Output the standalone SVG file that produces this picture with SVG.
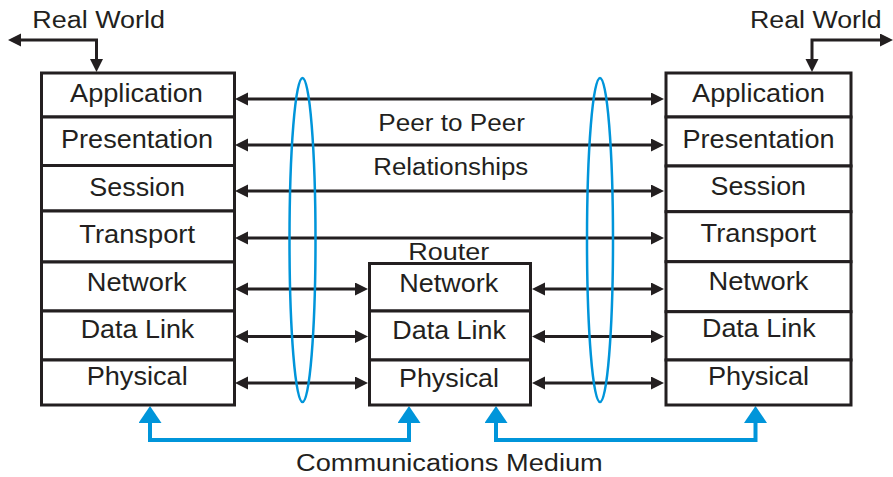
<svg xmlns="http://www.w3.org/2000/svg" width="893" height="477" viewBox="0 0 893 477">
<style>
  .box { fill: #ffffff; stroke: #231f20; stroke-width: 3; }
  .lbl { font-family: "Liberation Sans", Arial, sans-serif; font-size: 25px; fill: #231f20; }
  .sm { font-family: "Liberation Sans", Arial, sans-serif; font-size: 23px; fill: #231f20; }
  .conn { fill: none; stroke: #231f20; stroke-width: 3; marker-start: url(#ah); marker-end: url(#ah); }
  .blue { fill: none; stroke: #0095da; stroke-width: 4; marker-start: url(#bh); marker-end: url(#bh); }
  .ring { fill: none; stroke: #0095da; stroke-width: 2.5; }
</style>
<defs>
  <marker id="ah" markerUnits="userSpaceOnUse" markerWidth="14" markerHeight="14" refX="5" refY="6.5" orient="auto-start-reverse">
    <path d="M0,0 L13,6.5 L0,13 z" fill="#231f20"/>
  </marker>
  <marker id="bh" markerUnits="userSpaceOnUse" markerWidth="18" markerHeight="24" refX="1" refY="11.5" orient="auto-start-reverse">
    <path d="M0,0 L17,11.5 L0,23 z" fill="#0095da"/>
  </marker>
</defs>
<rect width="893" height="477" fill="#ffffff"/>

<g id="connectors">
  <path class="conn" d="M16,40 H96.5 V64"/>
  <path class="conn" d="M812,64 V40 H885"/>
  <line class="conn" x1="243" y1="99" x2="656" y2="99"/>
  <line class="conn" x1="243" y1="145" x2="656" y2="145"/>
  <line class="conn" x1="243" y1="191" x2="656" y2="191"/>
  <line class="conn" x1="243" y1="238" x2="656" y2="238"/>
  <line class="conn" x1="243" y1="289" x2="360" y2="289"/>
  <line class="conn" x1="243" y1="336.5" x2="360" y2="336.5"/>
  <line class="conn" x1="243" y1="383" x2="360" y2="383"/>
  <line class="conn" x1="540" y1="289" x2="656" y2="289"/>
  <line class="conn" x1="540" y1="336.5" x2="656" y2="336.5"/>
  <line class="conn" x1="540" y1="383" x2="656" y2="383"/>
  <path class="blue" d="M150,422 V440 H409 V422"/>
  <path class="blue" d="M496,422 V440 H755.5 V422"/>
  <ellipse class="ring" cx="302.5" cy="240" rx="13" ry="162"/>
  <ellipse class="ring" cx="600" cy="240" rx="13" ry="162"/>
</g>

<g id="left-stack">
  <g id="l-application"><rect class="box" x="41.5" y="73" width="193" height="44"/><text class="lbl" x="70" y="101.7" textLength="133" lengthAdjust="spacingAndGlyphs">Application</text></g>
  <g id="l-presentation"><rect class="box" x="41.5" y="117" width="193" height="48.5"/><text class="lbl" x="61" y="148.3" textLength="152" lengthAdjust="spacingAndGlyphs">Presentation</text></g>
  <g id="l-session"><rect class="box" x="41.5" y="165.5" width="193" height="45.5"/><text class="lbl" x="89.3" y="195.7" textLength="95.7" lengthAdjust="spacingAndGlyphs">Session</text></g>
  <g id="l-transport"><rect class="box" x="41.5" y="211" width="193" height="51"/><text class="lbl" x="79.3" y="243.3" textLength="115.7" lengthAdjust="spacingAndGlyphs">Transport</text></g>
  <g id="l-network"><rect class="box" x="41.5" y="262" width="193" height="49"/><text class="lbl" x="86.7" y="290.7" textLength="100" lengthAdjust="spacingAndGlyphs">Network</text></g>
  <g id="l-datalink"><rect class="box" x="41.5" y="311" width="193" height="49"/><text class="lbl" x="80.7" y="338.3" textLength="113.6" lengthAdjust="spacingAndGlyphs">Data Link</text></g>
  <g id="l-physical"><rect class="box" x="41.5" y="360" width="193" height="45"/><text class="lbl" x="86.7" y="385" textLength="101" lengthAdjust="spacingAndGlyphs">Physical</text></g>
</g>

<g id="router">
  <text class="sm" x="408.3" y="260" textLength="81" lengthAdjust="spacingAndGlyphs">Router</text>
  <g id="r-network"><rect class="box" x="369.5" y="263.5" width="161" height="47.5"/><text class="lbl" x="399.3" y="291.7" textLength="99" lengthAdjust="spacingAndGlyphs">Network</text></g>
  <g id="r-datalink"><rect class="box" x="369.5" y="311" width="161" height="49"/><text class="lbl" x="392.3" y="339.3" textLength="113.7" lengthAdjust="spacingAndGlyphs">Data Link</text></g>
  <g id="r-physical"><rect class="box" x="369.5" y="360" width="161" height="45"/><text class="lbl" x="399" y="386.7" textLength="100" lengthAdjust="spacingAndGlyphs">Physical</text></g>
</g>

<g id="right-stack">
  <g id="rs-application"><rect class="box" x="666" y="73" width="185" height="44"/><text class="lbl" x="692" y="101.7" textLength="133" lengthAdjust="spacingAndGlyphs">Application</text></g>
  <g id="rs-presentation"><rect class="box" x="666" y="117" width="185" height="49"/><text class="lbl" x="682.5" y="148.3" textLength="152" lengthAdjust="spacingAndGlyphs">Presentation</text></g>
  <g id="rs-session"><rect class="box" x="666" y="166" width="185" height="45.7"/><text class="lbl" x="710.5" y="195.3" textLength="95.5" lengthAdjust="spacingAndGlyphs">Session</text></g>
  <g id="rs-transport"><rect class="box" x="666" y="211.7" width="185" height="50"/><text class="lbl" x="700.5" y="242" textLength="115.7" lengthAdjust="spacingAndGlyphs">Transport</text></g>
  <g id="rs-network"><rect class="box" x="666" y="261.7" width="185" height="50"/><text class="lbl" x="708.5" y="289.5" textLength="100" lengthAdjust="spacingAndGlyphs">Network</text></g>
  <g id="rs-datalink"><rect class="box" x="666" y="311.7" width="185" height="48.3"/><text class="lbl" x="702" y="337" textLength="113.6" lengthAdjust="spacingAndGlyphs">Data Link</text></g>
  <g id="rs-physical"><rect class="box" x="666" y="360" width="185" height="45"/><text class="lbl" x="708" y="385" textLength="101" lengthAdjust="spacingAndGlyphs">Physical</text></g>
</g>

<g id="labels">
  <text class="sm" x="32.3" y="27.7" textLength="132.7" lengthAdjust="spacingAndGlyphs">Real World</text>
  <text class="sm" x="750" y="27.7" textLength="131.7" lengthAdjust="spacingAndGlyphs">Real World</text>
  <text class="sm" x="378.3" y="130.7" textLength="146.7" lengthAdjust="spacingAndGlyphs">Peer to Peer</text>
  <text class="sm" x="373.3" y="175" textLength="155" lengthAdjust="spacingAndGlyphs">Relationships</text>
  <text class="sm" x="296" y="470.7" textLength="306.7" lengthAdjust="spacingAndGlyphs">Communications Medium</text>
</g>
</svg>
